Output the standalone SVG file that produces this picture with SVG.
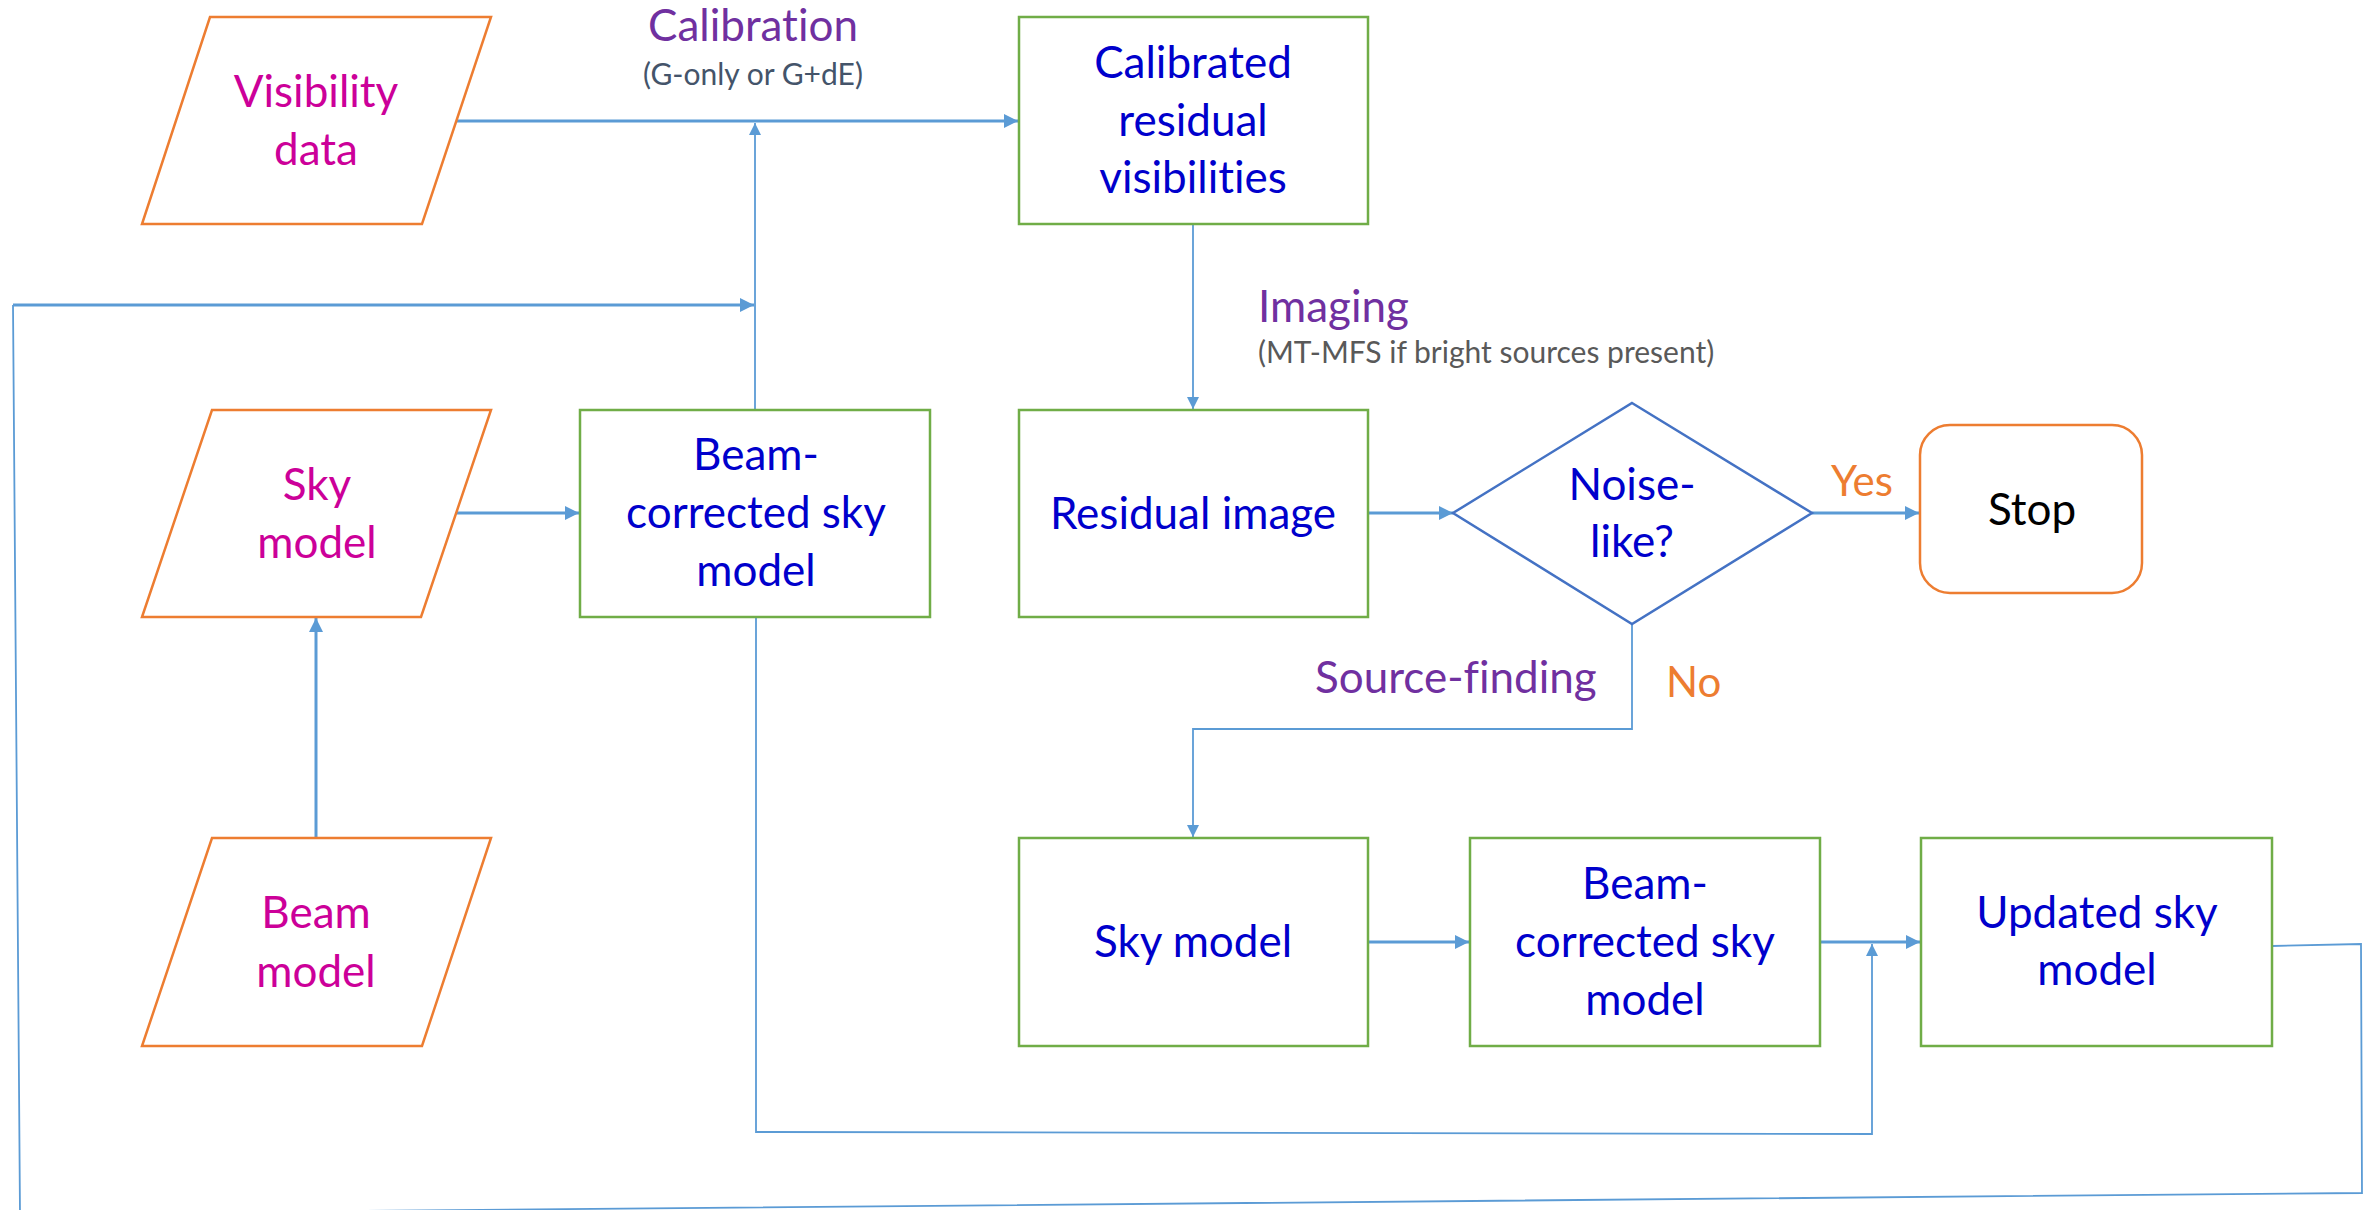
<svg xmlns="http://www.w3.org/2000/svg" width="2374" height="1210" viewBox="0 0 2374 1210">
<style>
text{font-variant-ligatures:none;font-feature-settings:"liga" 0,"clig" 0}
.io{fill:#fff;stroke:#ED7D31;stroke-width:2.5}
.box{fill:#fff;stroke:#70AD47;stroke-width:2.5}
.dec{fill:#fff;stroke:#4472C4;stroke-width:2.5}
.stop{fill:#fff;stroke:#ED7D31;stroke-width:2.5}
.t{font-family:Lato,"Open Sans",sans-serif;font-size:44px;text-anchor:middle}
.in{fill:#CC0099}
.nd{fill:#0000CC}
.lbl{font-family:Lato,"Open Sans",sans-serif;font-size:44px;fill:#7030A0}
.sub{font-family:Lato,"Open Sans",sans-serif;font-size:30px;fill:#595959}
.yn{font-family:Lato,"Open Sans",sans-serif;font-size:42px;fill:#ED7D31}
.thick{fill:none;stroke:#5B9BD5;stroke-width:3}
.thin{fill:none;stroke:#5B9BD5;stroke-width:1.8}
</style>
<defs>
<marker id="ah" viewBox="0 0 10 10" refX="10" refY="5" markerUnits="userSpaceOnUse" markerWidth="15" markerHeight="14" orient="auto">
<path d="M0,0 L10,5 L0,10 z" fill="#5B9BD5"/>
</marker>
<marker id="ahs" viewBox="0 0 10 10" refX="10" refY="5" markerUnits="userSpaceOnUse" markerWidth="15" markerHeight="12" orient="auto">
<path d="M0,0 L10,5 L0,10 z" fill="#5B9BD5"/>
</marker>
</defs>

<g id="connectors">
<path class="thick" d="M456,121 L1018,121" marker-end="url(#ah)"/>
<path class="thin" d="M755,410 L755,123" marker-end="url(#ahs)"/>
<path class="thin" d="M2272,946 L2361,944 L2362,1193 L20,1214 L13,305"/>
<path class="thick" d="M13,305 L754,305" marker-end="url(#ah)"/>
<path class="thick" d="M457,513 L579,513" marker-end="url(#ah)"/>
<path class="thick" d="M316,838 L316,618" marker-end="url(#ah)"/>
<path class="thin" d="M1193,224 L1193,409" marker-end="url(#ahs)"/>
<path class="thick" d="M1368,513 L1453,513" marker-end="url(#ah)"/>
<path class="thick" d="M1812,513 L1919,513" marker-end="url(#ah)"/>
<path class="thin" d="M1632,624 L1632,729 L1193,729 L1193,837" marker-end="url(#ahs)"/>
<path class="thick" d="M1368,942 L1469,942" marker-end="url(#ah)"/>
<path class="thick" d="M1820,942 L1920,942" marker-end="url(#ah)"/>
<path class="thin" d="M756,617 L756,1132 L1872,1134 L1872,944" marker-end="url(#ahs)"/>
</g>

<g id="label-calibration">
<text class="lbl" x="753" y="41" text-anchor="middle">Calibration</text>
<text class="sub" x="753" y="85" text-anchor="middle" style="fill:#44546A">(G-only or G+dE)</text>
</g>
<g id="label-imaging">
<text class="lbl" x="1258" y="322">Imaging</text>
<text class="sub" x="1258" y="363">(MT-MFS if bright sources present)</text>
</g>
<g id="label-source-finding">
<text class="lbl" x="1315" y="693">Source-finding</text>
</g>
<g id="label-yes"><text class="yn" x="1862" y="496" text-anchor="middle">Yes</text></g>
<g id="label-no"><text class="yn" x="1666" y="697">No</text></g>

<g id="visibility-data">
<polygon class="io" points="210,17 491,17 422,224 142,224"/>
<text class="t in" x="316" y="107">Visibility</text>
<text class="t in" x="316" y="165">data</text>
</g>

<g id="sky-model-input">
<polygon class="io" points="212,410 491,410 421,617 142,617"/>
<text class="t in" x="317" y="500">Sky</text>
<text class="t in" x="317" y="558">model</text>
</g>

<g id="beam-model">
<polygon class="io" points="212,838 491,838 422,1046 142,1046"/>
<text class="t in" x="316" y="928">Beam</text>
<text class="t in" x="316" y="987">model</text>
</g>

<g id="calibrated-residual-visibilities">
<rect class="box" x="1019" y="17" width="349" height="207"/>
<text class="t nd" x="1193" y="78">Calibrated</text>
<text class="t nd" x="1193" y="136">residual</text>
<text class="t nd" x="1193" y="193">visibilities</text>
</g>

<g id="beam-corrected-sky-model-1">
<rect class="box" x="580" y="410" width="350" height="207"/>
<text class="t nd" x="756" y="470">Beam-</text>
<text class="t nd" x="756" y="528">corrected sky</text>
<text class="t nd" x="756" y="586">model</text>
</g>

<g id="residual-image">
<rect class="box" x="1019" y="410" width="349" height="207"/>
<text class="t nd" x="1193" y="529">Residual image</text>
</g>

<g id="noise-like">
<polygon class="dec" points="1632,403 1812,513 1632,624 1453,513"/>
<text class="t nd" x="1632" y="500">Noise-</text>
<text class="t nd" x="1632" y="557">like?</text>
</g>

<g id="stop">
<rect class="stop" x="1920" y="425" width="222" height="168" rx="30" ry="30"/>
<text class="t" x="2032" y="525" fill="#000">Stop</text>
</g>

<g id="sky-model">
<rect class="box" x="1019" y="838" width="349" height="208"/>
<text class="t nd" x="1193" y="957">Sky model</text>
</g>

<g id="beam-corrected-sky-model-2">
<rect class="box" x="1470" y="838" width="350" height="208"/>
<text class="t nd" x="1645" y="899">Beam-</text>
<text class="t nd" x="1645" y="957">corrected sky</text>
<text class="t nd" x="1645" y="1015">model</text>
</g>

<g id="updated-sky-model">
<rect class="box" x="1921" y="838" width="351" height="208"/>
<text class="t nd" x="2097" y="928">Updated sky</text>
<text class="t nd" x="2097" y="985">model</text>
</g>
</svg>
